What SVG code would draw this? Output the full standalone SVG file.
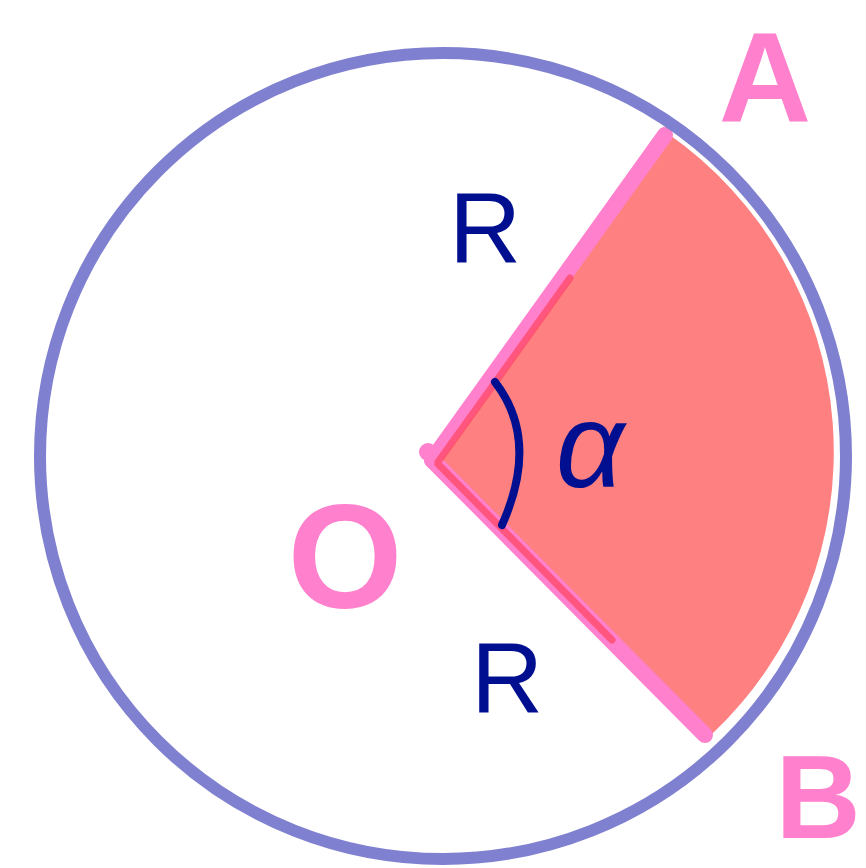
<svg xmlns="http://www.w3.org/2000/svg" width="866" height="868" viewBox="0 0 866 868">
<style>
.pink{fill:#ff80cc;font-family:"Liberation Sans",Arial,sans-serif;font-weight:bold}
.navy{fill:#000f90;font-family:"Liberation Sans",Arial,sans-serif}
</style>
<rect width="866" height="868" fill="#ffffff"/>
<g id="sector">
<path d="M432 460 L667 133 A388 388 0 0 1 712 734 Z" fill="#ff8080"/>
<path d="M432 460 L665 135" stroke="#ff80cc" stroke-width="16" stroke-linecap="round" fill="none"/>
<path d="M432 460 L705 735" stroke="#ff80cc" stroke-width="16" stroke-linecap="round" fill="none"/>
<path d="M438 462 L570 278 M438 464 L612 640" stroke="#ff4a6a" stroke-width="7" stroke-linecap="round" fill="none" opacity="0.8"/>
<circle cx="428" cy="452" r="9" fill="#ff80cc"/>
</g>
<g id="circle">
<circle cx="443" cy="456" r="403" fill="none" stroke="#8080d0" stroke-width="12"/>
</g>
<g id="angle">
<path d="M495 382 Q540 440 502 525" fill="none" stroke="#000f90" stroke-width="8" stroke-linecap="round"/>
</g>
<g id="labels">
<text class="pink" x="765" y="122" font-size="128" text-anchor="middle">A</text>
<text class="pink" x="818" y="838" font-size="118" text-anchor="middle">B</text>
<text class="pink" x="345" y="608" font-size="148" text-anchor="middle">O</text>
<text class="navy" x="485" y="263" font-size="100" text-anchor="middle">R</text>
<text class="navy" x="507" y="713" font-size="100" text-anchor="middle">R</text>
<text class="navy" x="590" y="487" font-size="120" text-anchor="middle" font-style="italic">α</text>
</g>
</svg>
